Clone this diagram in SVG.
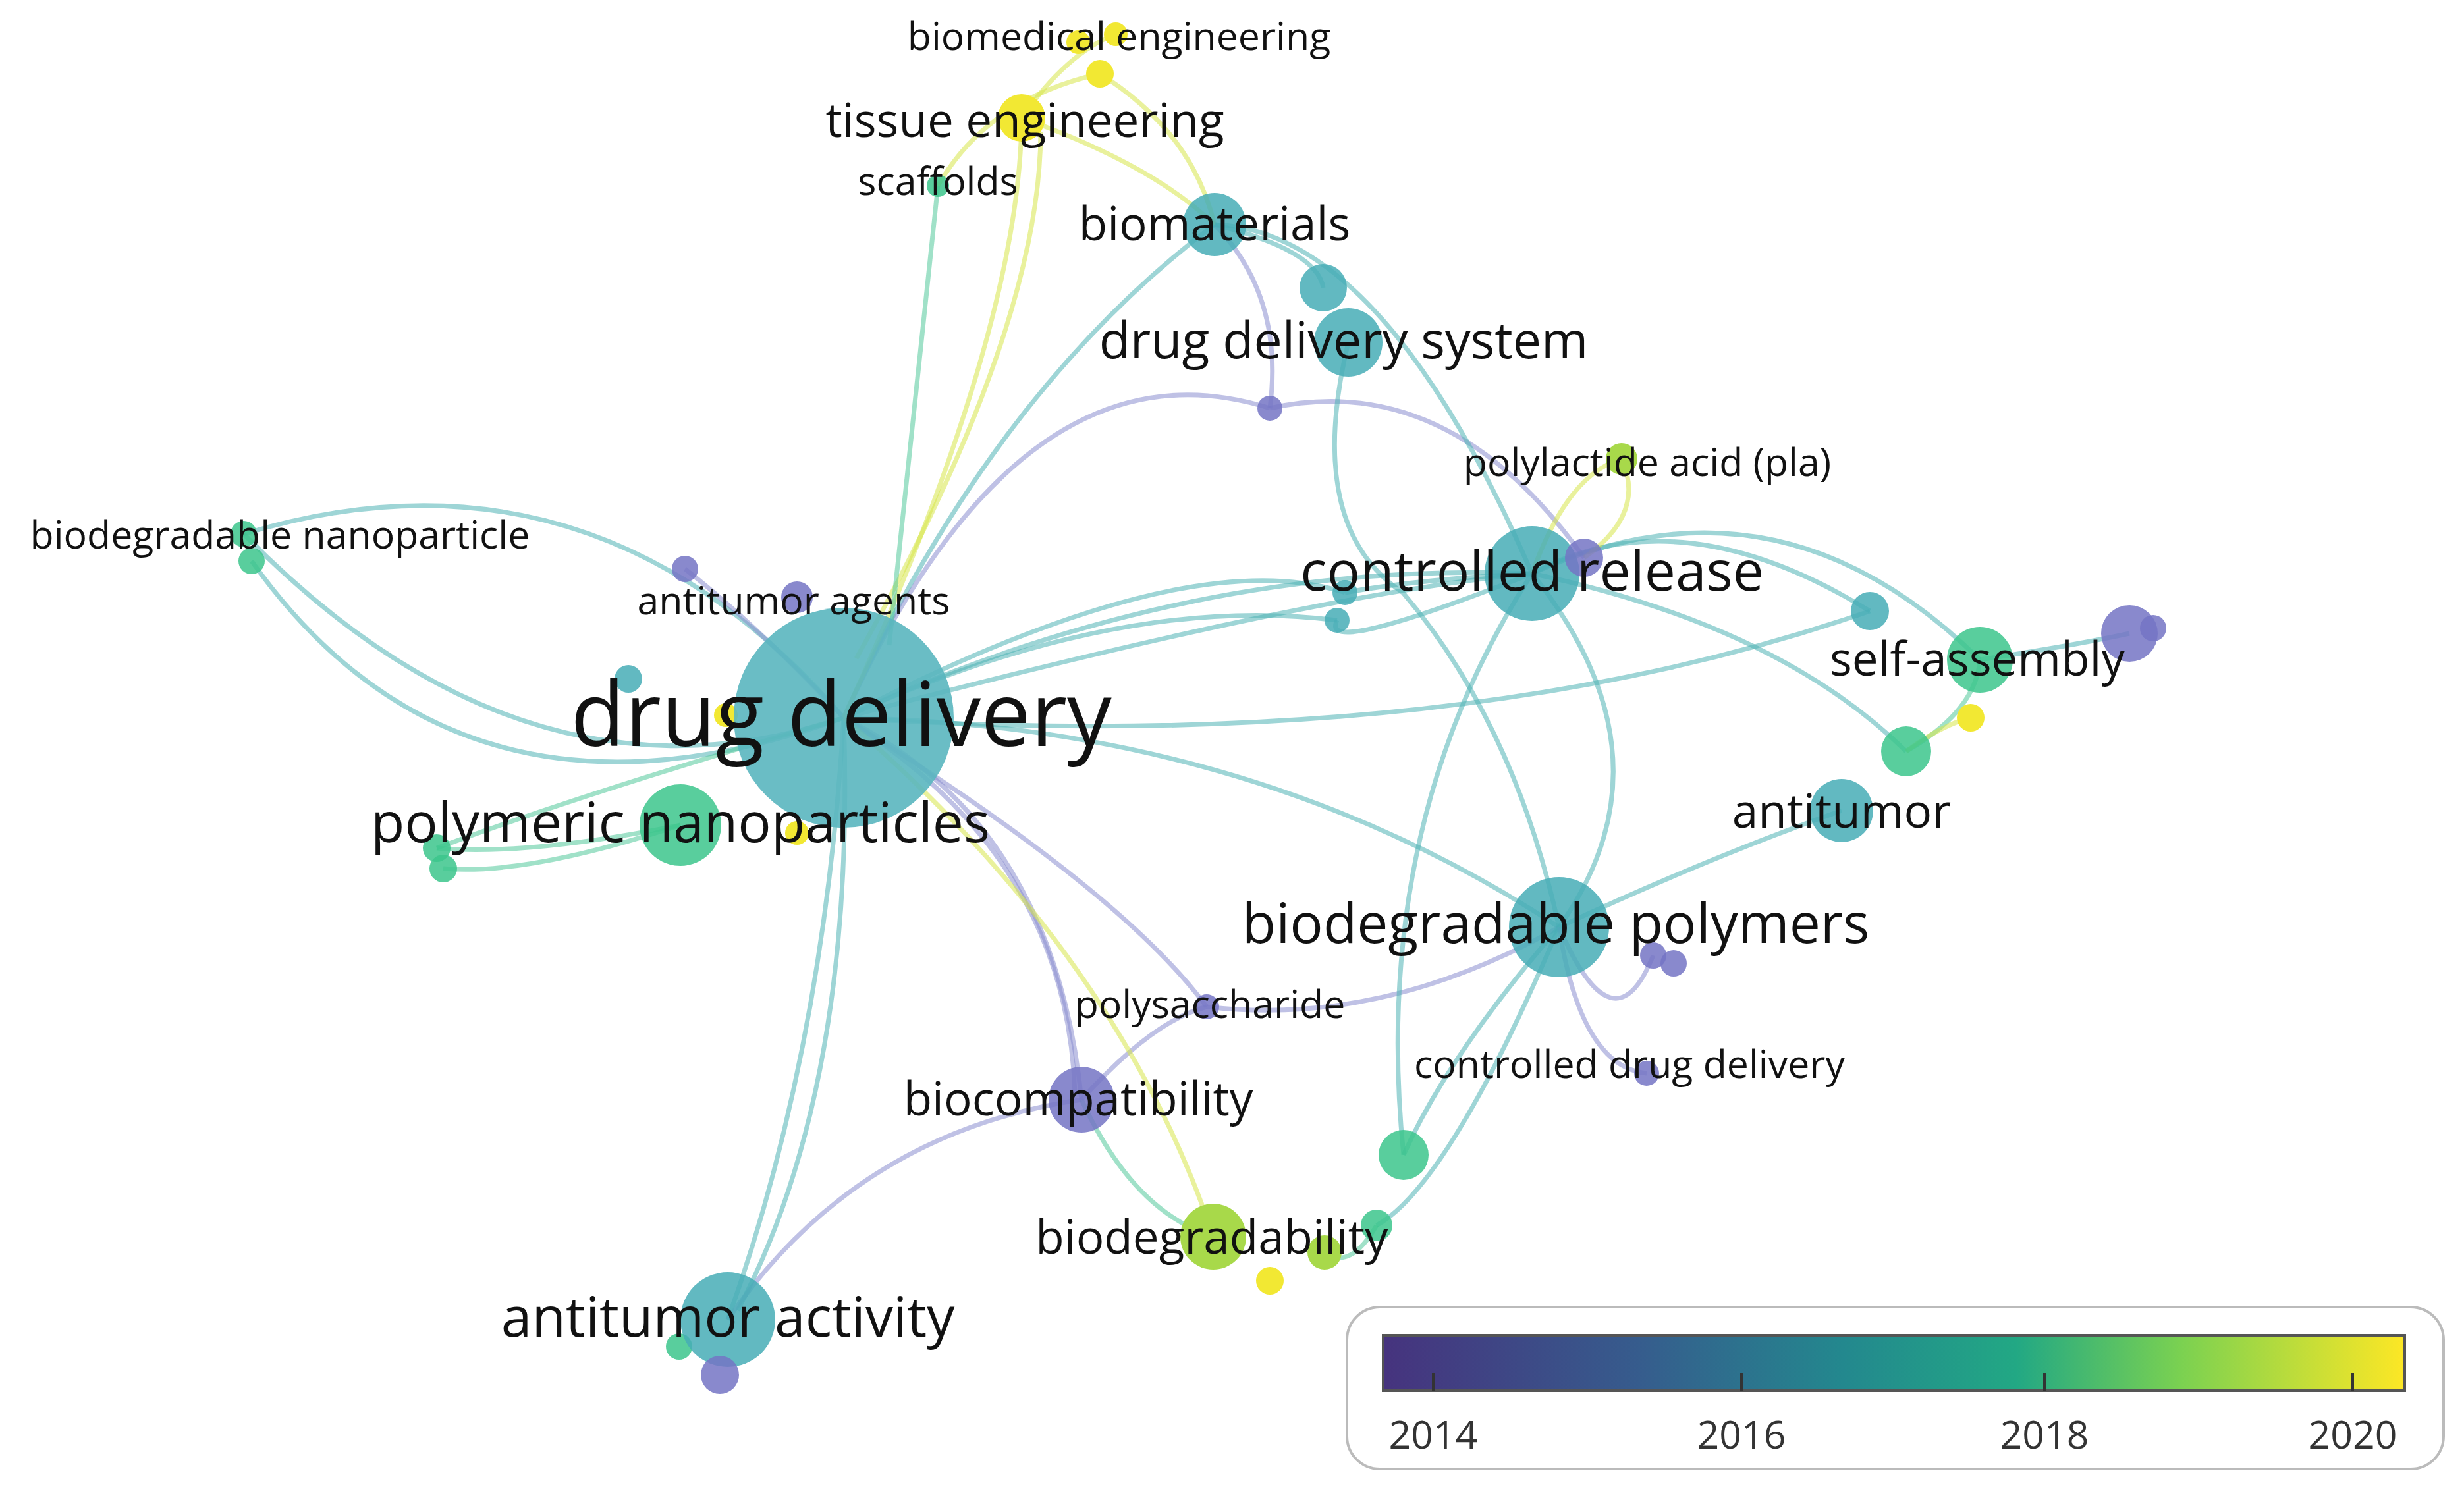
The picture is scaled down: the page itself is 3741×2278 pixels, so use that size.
<svg xmlns="http://www.w3.org/2000/svg" width="3741" height="2278" viewBox="0 0 3741 2278">
<defs>
<linearGradient id="vir" x1="0" x2="1" y1="0" y2="0">
<stop offset="0" stop-color="#46337e"/><stop offset="0.25" stop-color="#365c8d"/><stop offset="0.45" stop-color="#23888e"/><stop offset="0.62" stop-color="#22a884"/><stop offset="0.78" stop-color="#7ad151"/><stop offset="1" stop-color="#fde725"/>
</linearGradient>
<style>
text{font-family:"Open Sans","Noto Sans",sans-serif;fill:#111;text-anchor:middle}
.xl{font-size:135px}.l{font-size:84px}.m{font-size:71px}.s{font-size:59px}
.c path{fill:none;stroke-width:7;stroke-opacity:0.55}
.t{stroke:#4fb3b5}.p{stroke:#8a8ed0}.g{stroke:#52c99a}.y{stroke:#d7e64a}
.nt{fill:#46adb6;fill-opacity:0.85}.np{fill:#7474c4;fill-opacity:0.85}.ng{fill:#3cc58c;fill-opacity:0.85}.ny{fill:#f2e833}.nyg{fill:#a8d94a}
.tk{stroke:#333;stroke-width:4}
.lg{font-size:59px;fill:#333}
</style>
</defs>
<rect width="3741" height="2278" fill="#fff"/>
<g id="connectors" class="c">
<path class="t" d="M1281 1090 Q1500 600 1844 341"/>
<path class="t" d="M1281 1090 Q1800 850 2326 871"/>
<path class="t" d="M1281 1090 Q2000 900 2326 871"/>
<path class="t" d="M1281 1090 Q1900 1100 2367 1408"/>
<path class="t" d="M1281 1090 Q1800 820 2042 900"/>
<path class="t" d="M1281 1090 Q1700 900 2030 942"/>
<path class="t" d="M1281 1090 Q2200 1150 2839 928"/>
<path class="t" d="M1281 1090 Q1250 1600 1105 2004"/>
<path class="t" d="M1281 1090 Q1300 1650 1120 1990"/>
<path class="t" d="M1281 1090 Q900 650 370 811"/>
<path class="t" d="M1281 1090 Q700 1300 382 852"/>
<path class="t" d="M1281 1090 Q800 1250 370 811"/>
<path class="g" d="M1281 1090 Q900 1200 663 1288"/>
<path class="g" d="M1033 1253 Q800 1330 673 1319"/>
<path class="g" d="M1033 1253 Q800 1300 663 1288"/>
<path class="p" d="M1281 1090 Q1550 500 1928 620"/>
<path class="p" d="M1928 620 Q2200 560 2405 847"/>
<path class="p" d="M1928 620 Q1950 450 1844 341"/>
<path class="p" d="M1281 1090 Q1150 950 1040 864"/>
<path class="p" d="M1281 1090 Q1600 1250 1642 1670"/>
<path class="p" d="M1281 1090 Q1620 1300 1632 1660"/>
<path class="p" d="M1281 1090 Q1700 1350 1832 1529"/>
<path class="p" d="M1642 1670 Q1300 1720 1105 2004"/>
<path class="p" d="M1642 1670 Q1750 1550 1832 1529"/>
<path class="p" d="M1832 1529 Q2100 1560 2367 1408"/>
<path class="y" d="M1281 1090 Q1700 1450 1842 1878"/>
<path class="g" d="M1642 1670 Q1720 1840 1842 1878"/>
<path class="y" d="M1281 1090 Q1550 500 1551 179"/>
<path class="y" d="M1300 1000 Q1580 500 1580 200"/>
<path class="g" d="M1350 980 Q1400 500 1424 282"/>
<path class="y" d="M1551 179 Q1750 250 1844 341"/>
<path class="y" d="M1424 282 Q1500 150 1670 112"/>
<path class="y" d="M1670 112 Q1810 200 1844 341"/>
<path class="y" d="M1551 179 Q1620 80 1694 52"/>
<path class="t" d="M1844 341 Q2100 350 2326 871"/>
<path class="t" d="M1844 341 Q2000 380 2009 437"/>
<path class="t" d="M2047 520 Q1980 800 2130 900 Q2300 1100 2367 1408"/>
<path class="t" d="M2326 871 Q2550 750 2839 928"/>
<path class="t" d="M2326 871 Q2700 700 3006 1002"/>
<path class="t" d="M2326 871 Q2700 950 2894 1141"/>
<path class="t" d="M2326 871 Q2080 1250 2131 1754"/>
<path class="t" d="M2326 871 Q2550 1150 2367 1408"/>
<path class="t" d="M2326 871 Q2000 1000 2030 942"/>
<path class="t" d="M2326 871 Q2150 880 2042 900"/>
<path class="t" d="M2367 1408 Q2200 1600 2131 1754"/>
<path class="t" d="M2367 1408 Q2200 1800 2090 1861"/>
<path class="p" d="M2367 1408 Q2400 1620 2500 1630"/>
<path class="p" d="M2367 1408 Q2450 1600 2510 1451"/>
<path class="t" d="M2796 1231 Q2600 1300 2367 1408"/>
<path class="g" d="M2894 1141 Q3000 1080 3006 1002"/>
<path class="y" d="M2894 1141 Q2950 1100 2992 1090"/>
<path class="t" d="M3006 1002 Q3150 980 3233 962"/>
<path class="y" d="M2326 871 Q2380 720 2462 697"/>
<path class="y" d="M2462 697 Q2500 780 2405 847"/>
<path class="g" d="M2090 1861 Q2050 1930 2011 1902"/>
</g>
<g id="n-small">
<circle class="ny" cx="1637" cy="64" r="18"/><circle class="ny" cx="1694" cy="52" r="18"/><circle class="ny" cx="1670" cy="112" r="21"/>
<circle class="ng" cx="1424" cy="282" r="17"/>
<circle class="nt" cx="2009" cy="437" r="36"/>
<circle class="np" cx="1928" cy="620" r="19"/>
<circle class="np" cx="1040" cy="864" r="20"/>
<circle class="nt" cx="954" cy="1031" r="21"/>
<circle class="ny" cx="1102" cy="1086" r="18"/>
<circle class="ny" cx="1210" cy="1265" r="18"/>
<circle class="ng" cx="370" cy="811" r="20"/><circle class="ng" cx="382" cy="852" r="20"/>
<circle class="ng" cx="663" cy="1288" r="21"/><circle class="ng" cx="673" cy="1319" r="21"/>
<circle class="nt" cx="2042" cy="900" r="19"/><circle class="nt" cx="2030" cy="942" r="19"/>
<circle class="nt" cx="2839" cy="928" r="29"/>
<circle class="np" cx="3233" cy="962" r="43"/><circle class="np" cx="3269" cy="954" r="20"/>
<circle class="ny" cx="2992" cy="1090" r="21"/>
<circle class="ng" cx="2894" cy="1141" r="38"/>
<circle class="np" cx="2510" cy="1451" r="20"/><circle class="np" cx="2541" cy="1463" r="20"/>
<circle class="ng" cx="2131" cy="1754" r="38"/>
<circle class="ng" cx="2090" cy="1861" r="24"/>
<circle class="nyg" cx="2011" cy="1902" r="26"/>
<circle class="ny" cx="1928" cy="1945" r="21"/>
<circle class="ng" cx="1031" cy="2045" r="20"/>
</g>
<g id="n-drug-delivery"><circle cx="1281" cy="1090" r="167" fill="#5ab6bf" fill-opacity="0.9"/><text class="xl" x="1277" y="1133">drug delivery</text></g>
<g id="n-biomedical-engineering"><text class="s" x="1699" y="76">biomedical engineering</text></g>
<g id="n-tissue-engineering"><circle class="ny" cx="1551" cy="179" r="36"/><text class="m" x="1556" y="208">tissue engineering</text></g>
<g id="n-scaffolds"><text class="s" x="1424" y="296">scaffolds</text></g>
<g id="n-biomaterials"><circle class="nt" cx="1844" cy="341" r="48"/><text class="m" x="1844" y="365">biomaterials</text></g>
<g id="n-drug-delivery-system"><circle class="nt" cx="2047" cy="520" r="52"/><text x="2040" y="544" style="font-size:77px">drug delivery system</text></g>
<g id="n-polylactide"><circle class="nyg" cx="2462" cy="697" r="24"/><text class="s" x="2501" y="723">polylactide acid (pla)</text></g>
<g id="n-biodegradable-nanoparticle"><text class="s" x="425" y="833">biodegradable nanoparticle</text></g>
<g id="n-antitumor-agents"><circle class="np" cx="1210" cy="907" r="24"/><text class="s" x="1205" y="933">antitumor agents</text></g>
<g id="n-controlled-release"><circle class="nt" cx="2326" cy="871" r="72"/><circle class="np" cx="2405" cy="847" r="29"/><text class="l" x="2326" y="897">controlled release</text></g>
<g id="n-self-assembly"><circle class="ng" cx="3006" cy="1002" r="50"/><text class="m" x="3002" y="1026">self-assembly</text></g>
<g id="n-antitumor"><circle class="nt" cx="2796" cy="1231" r="48"/><text class="m" x="2796" y="1257">antitumor</text></g>
<g id="n-polymeric-nanoparticles"><circle class="ng" cx="1033" cy="1253" r="62"/><text class="l" x="1033" y="1279">polymeric nanoparticles</text></g>
<g id="n-biodegradable-polymers"><circle class="nt" cx="2367" cy="1408" r="76"/><text class="l" x="2362" y="1432">biodegradable polymers</text></g>
<g id="n-polysaccharide"><circle class="np" cx="1832" cy="1529" r="19"/><text class="s" x="1837" y="1546">polysaccharide</text></g>
<g id="n-controlled-drug-delivery"><circle class="np" cx="2500" cy="1630" r="19"/><text class="s" x="2474" y="1637">controlled drug delivery</text></g>
<g id="n-biocompatibility"><circle class="np" cx="1642" cy="1670" r="50"/><text class="m" x="1637" y="1694">biocompatibility</text></g>
<g id="n-biodegradability"><circle class="nyg" cx="1842" cy="1878" r="50"/><text class="m" x="1840" y="1904">biodegradability</text></g>
<g id="n-antitumor-activity"><circle class="nt" cx="1105" cy="2004" r="72"/><circle class="np" cx="1093" cy="2088" r="29"/><text class="l" x="1105" y="2030">antitumor activity</text></g>
<g id="legend">
<rect x="2045" y="1985" width="1665" height="246" rx="50" fill="#fff" stroke="#bbb" stroke-width="4"/>
<rect x="2100" y="2028" width="1551" height="84" fill="url(#vir)" stroke="#555" stroke-width="4"/>
<line class="tk" x1="2176" y1="2085" x2="2176" y2="2112"/><line class="tk" x1="2644" y1="2085" x2="2644" y2="2112"/>
<line class="tk" x1="3104" y1="2085" x2="3104" y2="2112"/><line class="tk" x1="3572" y1="2085" x2="3572" y2="2112"/>
<text class="lg" x="2176" y="2200">2014</text><text class="lg" x="2644" y="2200">2016</text>
<text class="lg" x="3104" y="2200">2018</text><text class="lg" x="3572" y="2200">2020</text>
</g>
</svg>
